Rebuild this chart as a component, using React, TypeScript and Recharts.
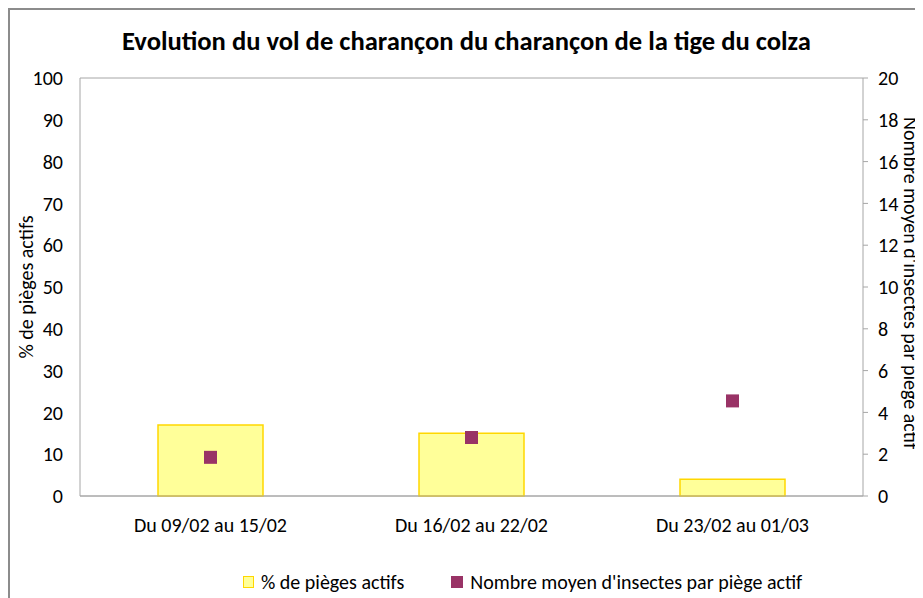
import { Bar, CartesianGrid, ComposedChart, Scatter, XAxis, YAxis, ZAxis } from "recharts";

const periods = ["Du 09/02 au 15/02", "Du 16/02 au 22/02", "Du 23/02 au 01/03"];
const activeTraps = [17, 15, 4];
const insectsPerTrap = [1.85, 2.8, 4.55];
const leftTicks = [0, 10, 20, 30, 40, 50, 60, 70, 80, 90, 100];
const rightTicks = [0, 2, 4, 6, 8, 10, 12, 14, 16, 18, 20];

const data = periods.map((period, i) => ({
  period,
  pct: activeTraps[i],
  avg: insectsPerTrap[i],
}));

const font = "Calibri, Carlito, 'Open Sans', sans-serif";
const barFill = "#FFFF99";
const barStroke = "#FFD700";
const markerColor = "#993366";
const gridColor = "#A6A6A6";

export default function App() {
  return (
    <div
      style={{
        position: "relative",
        width: 913,
        height: 588,
        borderTop: "2px solid #8c8c8c",
        borderLeft: "2px solid #8c8c8c",
        fontFamily: font,
        background: "#fff",
      }}
    >
      <div
        style={{
          position: "absolute",
          top: 15,
          left: 0,
          width: 913,
          textAlign: "center",
          fontWeight: "bold",
          fontSize: 26.6,
          color: "#000",
        }}
      >
        Evolution du vol de charançon du charançon de la tige du colza
      </div>
      <ComposedChart
        width={913}
        height={588}
        data={data}
        margin={{ top: 68, right: 8, left: 10, bottom: 62 }}
        style={{ fontFamily: font }}
      >
        <CartesianGrid vertical={false} stroke={gridColor} strokeWidth={1} />
        <XAxis
          dataKey="period"
          tickLine={false}
          axisLine={{ stroke: gridColor }}
          tick={{ fontSize: 20, fill: "#000" }}
          tickMargin={16}
          height={40}
        />
        <YAxis
          yAxisId="left"
          domain={[0, 100]}
          ticks={leftTicks}
          width={60}
          tickLine={false}
          axisLine={{ stroke: gridColor }}
          tick={{ fontSize: 20, fill: "#000" }}
          tickMargin={11}
          label={{
            value: "% de pièges actifs",
            angle: -90,
            position: "center",
            dx: -24,
            style: { fontSize: 20, fill: "#000" },
          }}
        />
        <YAxis
          yAxisId="right"
          orientation="right"
          domain={[0, 20]}
          ticks={rightTicks}
          width={52}
          tickSize={5}
          tickLine={{ stroke: gridColor }}
          axisLine={{ stroke: gridColor }}
          tick={{ fontSize: 20, fill: "#000" }}
          tickMargin={10}
          label={{
            value: "Nombre moyen d'insectes par piège actif",
            angle: 90,
            position: "center",
            dx: 22,
            dy: -4,
            style: { fontSize: 20, fill: "#000" },
          }}
        />
        <ZAxis range={[169, 169]} />
        <Bar
          yAxisId="left"
          dataKey="pct"
          fill={barFill}
          stroke={barStroke}
          strokeWidth={1.5}
          barSize={105}
          isAnimationActive={false}
        />
        <Scatter
          yAxisId="right"
          dataKey="avg"
          fill={markerColor}
          shape="square"
          legendType="square"
          isAnimationActive={false}
        />
      </ComposedChart>
      <div
        style={{
          position: "absolute",
          top: 560,
          left: 233,
          display: "flex",
          alignItems: "center",
          fontSize: 20,
          color: "#000",
          whiteSpace: "nowrap",
        }}
      >
        <span
          style={{
            display: "inline-block",
            width: 9,
            height: 10,
            background: barFill,
            border: `1.5px solid ${barStroke}`,
            marginRight: 7,
          }}
        />
        <span style={{ marginRight: 47 }}>% de pièges actifs</span>
        <span
          style={{
            display: "inline-block",
            width: 12,
            height: 12,
            background: markerColor,
            marginRight: 7,
          }}
        />
        <span>Nombre moyen d'insectes par piège actif</span>
      </div>
    </div>
  );
}
